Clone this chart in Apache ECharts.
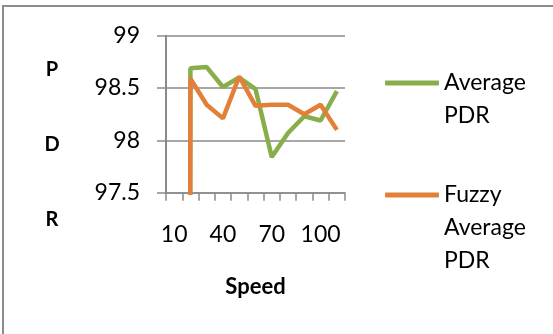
<!DOCTYPE html>
<html>
<head>
<meta charset="utf-8">
<script src="https://cdn.jsdelivr.net/npm/echarts@6/dist/echarts.min.js"></script>
<style>
html,body{margin:0;padding:0;background:#fff;}
#c{width:553px;height:334px;}
</style>
</head>
<body>
<div id="c"></div>
<script>
var categories = ['10','20','30','40','50','60','70','80','90','100','110'];
var averagePDR = [0, 98.69, 98.70, 98.51, 98.60, 98.49, 97.84, 98.07, 98.23, 98.19, 98.47];
var fuzzyAveragePDR = [0, 98.59, 98.34, 98.21, 98.61, 98.33, 98.34, 98.34, 98.25, 98.34, 98.10];
var yTicks = [97.5, 98, 98.5, 99];

var FONT = 'Lato';
var GRAY = '#8a8a8a';
var chart = echarts.init(document.getElementById('c'), null, {renderer: 'canvas'});
chart.setOption({
  animation: false,
  backgroundColor: '#fff',
  graphic: [{
    type: 'rect', silent: true,
    shape: {x: 3, y: 6, width: 700, height: 500},
    style: {fill: 'none', stroke: '#8c8c8c', lineWidth: 2}
  }],
  title: {
    text: 'P\nD\nR',
    left: 52, top: 32, textAlign: 'center',
    padding: 0,
    textStyle: {fontFamily: FONT, fontWeight: 'bold', fontSize: 20, lineHeight: 75, color: '#000'}
  },
  legend: [{
    data: ['Average PDR'],
    left: 385, top: 33.5, padding: 0, orient: 'vertical',
    icon: 'roundRect', itemWidth: 54, itemHeight: 5,
    formatter: function () { return '\nAverage\nPDR'; },
    textStyle: {fontFamily: FONT, fontSize: 23, lineHeight: 33, color: '#000'}
  }, {
    data: ['Fuzzy Average PDR'],
    left: 385, top: 112.5, padding: 0, orient: 'vertical',
    icon: 'roundRect', itemWidth: 54, itemHeight: 5,
    formatter: function () { return '\n\nFuzzy\nAverage\nPDR'; },
    textStyle: {fontFamily: FONT, fontSize: 23, lineHeight: 33, color: '#000'}
  }],
  grid: {left: 166, right: 208, top: 35.7, bottom: 141.3, containLabel: false},
  xAxis: {
    type: 'category',
    data: categories,
    boundaryGap: true,
    name: 'Speed',
    nameLocation: 'middle',
    nameGap: 83,
    nameTextStyle: {fontFamily: FONT, fontWeight: 'bold', fontSize: 22, color: '#000'},
    axisLine: {show: true, lineStyle: {color: GRAY, width: 1.5}},
    axisTick: {show: true, interval: 0, length: 8, lineStyle: {color: GRAY, width: 1.5}},
    axisLabel: {interval: 2, margin: 30, fontFamily: FONT, fontSize: 23, color: '#000'},
    splitLine: {show: false}
  },
  yAxis: {
    type: 'value',
    min: 97.5, max: 99, interval: 0.5,
    axisLine: {show: true, lineStyle: {color: GRAY, width: 2}},
    axisTick: {show: true, length: 9, lineStyle: {color: GRAY, width: 1.5}},
    axisLabel: {margin: 26, fontFamily: FONT, fontSize: 23, color: '#000',
      formatter: function (v) { return yTicks.indexOf(v) >= 0 ? String(v) : ''; }},
    splitLine: {show: true, lineStyle: {color: GRAY, width: 1.5}}
  },
  series: [{
    name: 'Average PDR', type: 'line', data: averagePDR,
    symbol: 'none', clip: true,
    lineStyle: {color: '#8AAD4B', width: 4.5},
    itemStyle: {color: '#8AAD4B'}
  }, {
    name: 'Fuzzy Average PDR', type: 'line', data: fuzzyAveragePDR,
    symbol: 'none', clip: true,
    lineStyle: {color: '#E2803A', width: 4.5},
    itemStyle: {color: '#E2803A'}
  }]
});
</script>
</body>
</html>
